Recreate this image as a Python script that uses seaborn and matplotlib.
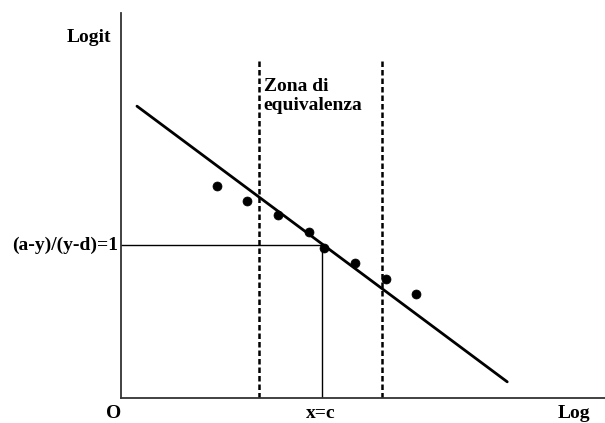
import matplotlib
matplotlib.use("Agg")
import matplotlib.pyplot as plt
import seaborn as sns
import pandas as pd

sns.set_theme(style="white")
plt.rcParams["font.family"] = ["Liberation Serif", "DejaVu Serif"]

# Observed points (log dose vs logit)
log_dose = [1.98, 2.60, 3.24, 3.88, 4.19, 4.83, 5.48, 6.10]
logit = [5.51, 5.12, 4.75, 4.31, 3.90, 3.51, 3.09, 2.70]

# Fitted regression line end points
fit_x = [0.33, 7.98]
fit_y = [7.58, 0.42]

# Equivalence zone bounds and the point x = c where (a-y)/(y-d) = 1
zone_bounds = [2.85, 5.39]
zone_top = 8.83
c_value = 4.15
logit_at_c = 3.97

points = pd.DataFrame({"x": log_dose, "y": logit})
fit = pd.DataFrame({"x": fit_x, "y": fit_y})

W, H = 605, 423
fig = plt.figure(figsize=(W / 100, H / 100), dpi=100)
ax = fig.add_axes([121 / W, (H - 398) / H, (W - 121) / W, (398 - 13) / H])
ax.set_xlim(0, 10)
ax.set_ylim(0, 10)

sns.lineplot(data=fit, x="x", y="y", ax=ax, color="black", linewidth=2.0)
sns.scatterplot(data=points, x="x", y="y", ax=ax, color="black", s=42,
                edgecolor="black", linewidth=0.5, zorder=4)

for xb in zone_bounds:
    ax.plot([xb, xb], [0, zone_top], color="black", linewidth=1.8,
            linestyle=(0, (2.2, 1.2)))

ax.plot([0, c_value], [logit_at_c, logit_at_c], color="black", linewidth=1.0)
ax.plot([c_value, c_value], [0, logit_at_c], color="black", linewidth=1.0)

for side in ["top", "right"]:
    ax.spines[side].set_visible(False)
for side in ["left", "bottom"]:
    ax.spines[side].set_color("#333333")
    ax.spines[side].set_linewidth(1.3)
ax.set_xticks([])
ax.set_yticks([])
ax.set_xlabel("")
ax.set_ylabel("")

fs = 14
txt = dict(fontsize=fs, fontweight="bold", color="black")
fig.text(111 / W, 1 - 38 / H, "Logit", ha="right", va="center", **txt)
fig.text(118 / W, 1 - 245 / H, "(a-y)/(y-d)=1", ha="right", va="center", **txt)
base = 1 - 418 / H
fig.text(114 / W, base, "O", ha="center", va="baseline", **txt)
fig.text(321 / W, base, "x=c", ha="center", va="baseline", **txt)
fig.text(558 / W, base, "Log", ha="left", va="baseline", **txt)
ax.text(zone_bounds[0] + 0.1, (398 - 96) / 38.5, "Zona di\nequivalenza",
        ha="left", va="center", linespacing=1.15, **txt)

fig.savefig("out.png", dpi=100)
